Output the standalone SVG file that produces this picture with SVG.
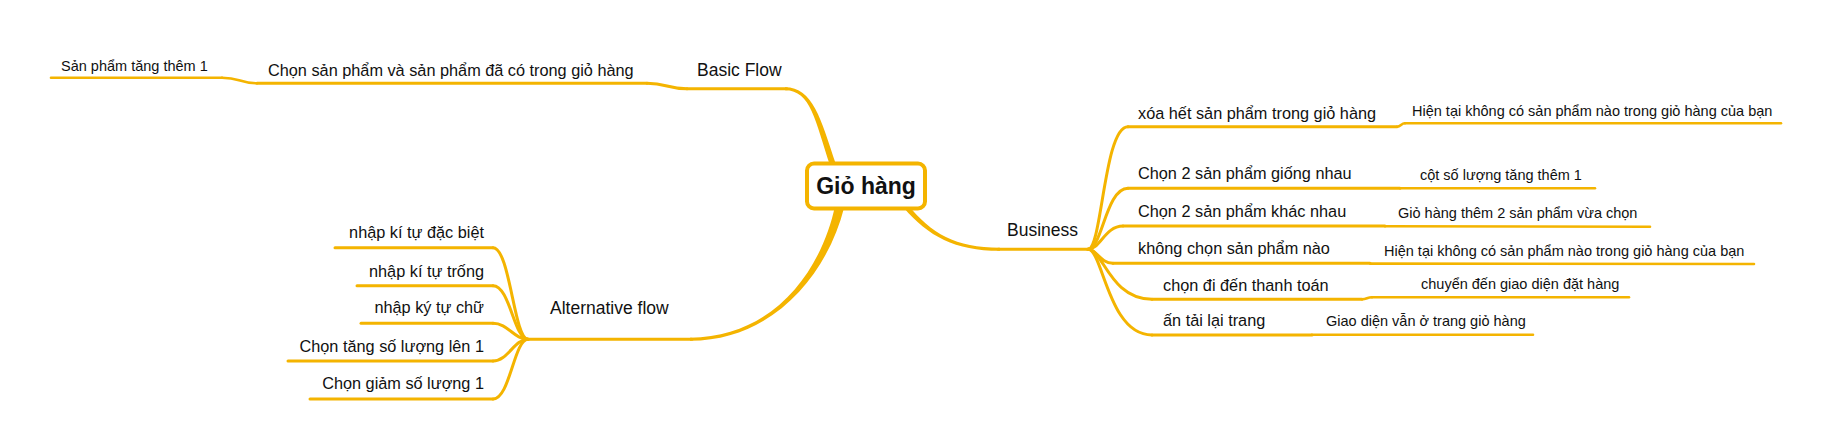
<svg xmlns="http://www.w3.org/2000/svg" width="1830" height="447" viewBox="0 0 1830 447">
<style>
.ln{fill:none;stroke:#F4B400;stroke-width:3;stroke-linecap:round}
.l3{fill:none;stroke:#F4B400;stroke-width:2.6;stroke-linecap:round}
.tp{fill:#F4B400;stroke:none}
text{font-family:"Liberation Sans",Arial,sans-serif;fill:#111}
.t1{font-size:17.5px}
.t2{font-size:16.3px}
.t3{font-size:14.5px}
.root{font-size:23px;font-weight:bold}
</style>
<rect width="1830" height="447" fill="#fff"/>
<g id="connectors">
  <!-- main branches (tapered) -->
  <path class="tp" d="M830.2,166 L835.8,164 C820.8,119 813,87.2 785,87.2 L785,90.2 C811,90.2 815.2,121 830.2,166 Z"/>
  <path class="ln" d="M787,88.7 L687,88.7"/>
  <path class="tp" d="M835,206 L844,208 C828.4,270.8 775,341 690,340.8 L690,337.8 C775,337 821.6,269.2 835,206 Z"/>
  <path class="ln" d="M692,339.3 L528,339.3"/>
  <path class="tp" d="M907.5,204.5 C931.6,233.7 955,247.7 1000,247.8 L1000,250.8 C955,250.9 928.4,236.3 903.7,207.7 Z"/>
  <path class="ln" d="M998,249.3 L1088,249.3"/>
  <!-- basic flow sub -->
  <path class="ln" d="M647,83.3 C667,83.3 667,88.7 687,88.7"/>
  <path class="l3" d="M222,77.7 C240,77.7 240,83.3 257,83.3"/>
  <!-- alternative flow hub -->
  <path class="ln" d="M528,339.3 C514,339.3 510,247.7 493,247.7"/>
  <path class="ln" d="M528,339.3 C514,339.3 510,285.7 493,285.7"/>
  <path class="ln" d="M528,339.3 C514,339.3 508,323.3 493,323.3"/>
  <path class="ln" d="M528,339.3 C514,339.3 508,361 493,361"/>
  <path class="ln" d="M528,339.3 C514,339.3 510,399 493,399"/>
  <!-- business hub -->
  <path class="ln" d="M1088,249.3 C1102,249.3 1104,126.7 1128,126.7"/>
  <path class="ln" d="M1088,249.3 C1102,249.3 1106,188.3 1128,188.3"/>
  <path class="ln" d="M1088,249.3 C1100,249.3 1105,226 1123,226"/>
  <path class="ln" d="M1088,249.3 C1097,249.3 1100,263.3 1113,263.3"/>
  <path class="ln" d="M1088,249.3 C1103,249.3 1110,299.3 1152,299.3"/>
  <path class="ln" d="M1088,249.3 C1103,249.3 1108,335 1152,335"/>
  <!-- business sub bends -->
  <path class="l3" d="M1397,126.7 C1401,126.7 1401,123.3 1405,123.3"/>
  <path class="l3" d="M1362,299.3 C1367,299.3 1367,297.3 1372,297.3"/>
</g>
<g id="root">
  <rect x="807" y="163.5" width="118" height="45" rx="7" fill="#fff" stroke="#F4B400" stroke-width="4"/>
  <text class="root" x="866" y="194" text-anchor="middle">Giỏ hàng</text>
</g>
<g id="basic-flow">
  <text class="t1" x="697" y="76">Basic Flow</text>
</g>
<g id="basic-1">
  <path class="ln" d="M257,83.3 L647,83.3"/>
  <text class="t2" x="268" y="75.7">Chọn sản phẩm và sản phẩm đã có trong giỏ hàng</text>
</g>
<g id="basic-1-1">
  <path class="l3" d="M51,77.7 L222,77.7"/>
  <text class="t3" x="61" y="70.7">Sản phẩm tăng thêm 1</text>
</g>
<g id="alternative-flow">
  <text class="t1" x="550" y="314.3">Alternative flow</text>
</g>
<g id="alt-1">
  <path class="ln" d="M335,247.7 L493,247.7"/>
  <text class="t2" x="484" y="238.3" text-anchor="end">nhập kí tự đặc biệt</text>
</g>
<g id="alt-2">
  <path class="ln" d="M357,285.7 L493,285.7"/>
  <text class="t2" x="484" y="276.7" text-anchor="end">nhập kí tự trống</text>
</g>
<g id="alt-3">
  <path class="ln" d="M361,323.3 L493,323.3"/>
  <text class="t2" x="484" y="313.3" text-anchor="end">nhập ký tự chữ</text>
</g>
<g id="alt-4">
  <path class="ln" d="M288,361 L493,361"/>
  <text class="t2" x="484" y="351.7" text-anchor="end">Chọn tăng số lượng lên 1</text>
</g>
<g id="alt-5">
  <path class="ln" d="M310,399 L493,399"/>
  <text class="t2" x="484" y="389.3" text-anchor="end">Chọn giảm số lượng 1</text>
</g>
<g id="business">
  <text class="t1" x="1007" y="236">Business</text>
</g>
<g id="bus-1">
  <path class="ln" d="M1128,126.7 L1397,126.7"/>
  <text class="t2" x="1138" y="119.3">xóa hết sản phẩm trong giỏ hàng</text>
</g>
<g id="bus-1-1">
  <path class="l3" d="M1405,123.3 L1781,123.3"/>
  <text class="t3" x="1412" y="115.7">Hiện tại không có sản phẩm nào trong giỏ hàng của bạn</text>
</g>
<g id="bus-2">
  <path class="ln" d="M1128,188.3 L1400,188.3"/>
  <text class="t2" x="1138" y="179">Chọn 2 sản phẩm giống nhau</text>
</g>
<g id="bus-2-1">
  <path class="l3" d="M1400,188.3 L1595,188.3"/>
  <text class="t3" x="1420" y="180">cột số lượng tăng thêm 1</text>
</g>
<g id="bus-3">
  <path class="ln" d="M1123,226 L1385,226"/>
  <text class="t2" x="1138" y="216.7">Chọn 2 sản phẩm khác nhau</text>
</g>
<g id="bus-3-1">
  <path class="l3" d="M1385,226.3 L1650,226.7"/>
  <text class="t3" x="1398" y="217.7">Giỏ hàng thêm 2 sản phẩm vừa chọn</text>
</g>
<g id="bus-4">
  <path class="ln" d="M1113,263.3 L1370,263.3"/>
  <text class="t2" x="1138" y="254.3">không chọn sản phẩm nào</text>
</g>
<g id="bus-4-1">
  <path class="l3" d="M1370,263.6 L1754,264"/>
  <text class="t3" x="1384" y="255.7">Hiện tại không có sản phẩm nào trong giỏ hàng của bạn</text>
</g>
<g id="bus-5">
  <path class="ln" d="M1152,299.3 L1362,299.3"/>
  <text class="t2" x="1163" y="290.7">chọn đi đến thanh toán</text>
</g>
<g id="bus-5-1">
  <path class="l3" d="M1372,297.3 L1629,297.3"/>
  <text class="t3" x="1421" y="289">chuyển đến giao diện đặt hàng</text>
</g>
<g id="bus-6">
  <path class="ln" d="M1152,335 L1312,335"/>
  <text class="t2" x="1163" y="326">ấn tải lại trang</text>
</g>
<g id="bus-6-1">
  <path class="l3" d="M1312,334.8 L1533,334.7"/>
  <text class="t3" x="1326" y="325.7">Giao diện vẫn ở trang giỏ hàng</text>
</g>
</svg>
